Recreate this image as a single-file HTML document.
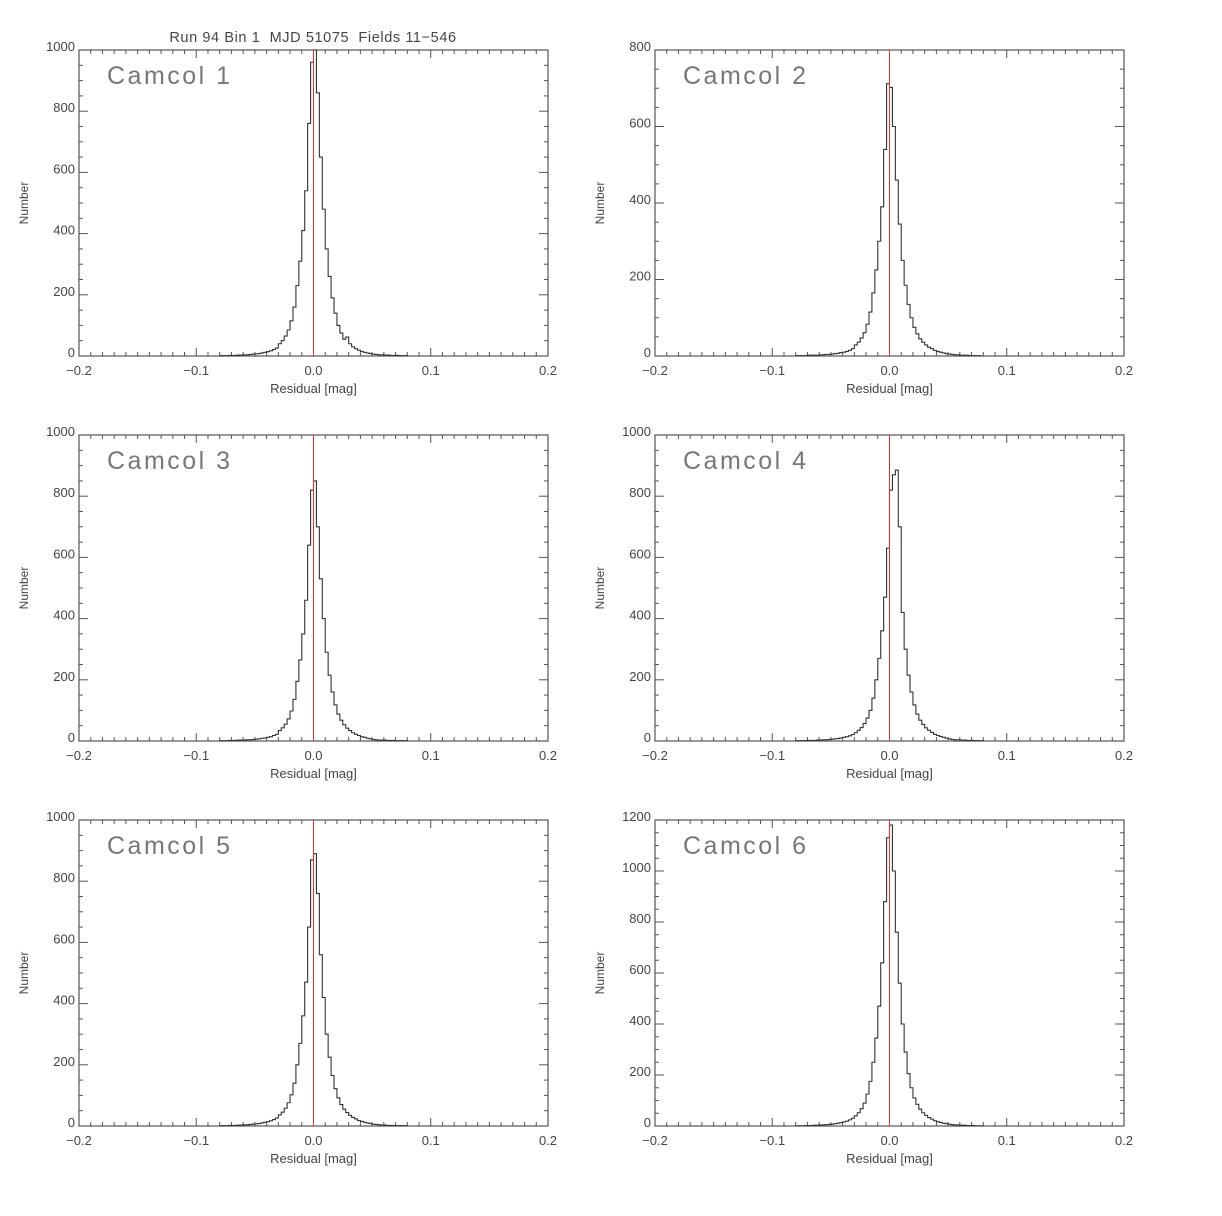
<!DOCTYPE html>
<html><head><meta charset="utf-8">
<style>
html,body{margin:0;padding:0;background:#fff;}
svg{display:block;font-family:"Liberation Sans",sans-serif;}
</style></head>
<body>
<svg id="fig" width="1222" height="1216" viewBox="0 0 1222 1216" xmlns="http://www.w3.org/2000/svg">
<text x="313" y="42" text-anchor="middle" font-size="14.5" fill="#444" letter-spacing="0.6" style="white-space:pre" xml:space="preserve">Run 94 Bin 1  MJD 51075  Fields 11−546</text>
</svg>
<script>
const binStart = -0.08;
const binWidth = 0.0025;
const xTicks = [-0.2, -0.1, 0.0, 0.1, 0.2];
const xTickLabels = ["−0.2", "−0.1", "0.0", "0.1", "0.2"];
const panelTitles = ["Camcol 1","Camcol 2","Camcol 3","Camcol 4","Camcol 5","Camcol 6"];
const yMaxes = [1000, 800, 1000, 1000, 1000, 1200];
const counts1 = [1,1,1,2,2,2,3,3,4,4,5,6, 7,8,10,12,14,17,21,26, 40,50,65,85,115,160, 230,310,410,540,760,960, 1000,860,650,480,350,260, 190,140,100,75,55,62, 40,30,24,19,15,12,10,8, 6,5,4,4,3,3,2,2,2,1,1,1];
const counts2 = [1,1,1,1,2,2,2,2,3,3,4,4, 5,6,7,9,10,12,15,19, 29,36,47,61,83,115, 165,225,300,390,540,712, 702,600,460,345,250,185, 135,100,75,58,45,36, 29,23,19,15,12,10,8,6, 5,4,3,3,2,2,2,1,1,1,1,0];
const counts3 = [1,1,1,2,2,2,3,3,3,4,4,5, 6,7,9,10,12,14,18,22, 34,43,55,72,98,136, 195,265,350,460,640,820, 850,700,530,400,290,215, 160,118,88,68,53,42, 34,27,22,18,14,12,9,7, 5,4,3,3,3,2,2,2,1,1,1,1];
const counts4 = [1,1,1,1,2,2,2,3,3,4,4,5, 6,7,8,10,12,14,17,21, 27,35,44,57,75,100, 140,200,270,360,470,630, 820,870,885,700,420,300, 215,160,118,88,68,54, 43,35,28,22,18,15,12,9, 7,5,4,4,3,3,2,2,2,1,1,1];
const counts5 = [1,1,1,2,2,2,3,3,4,4,5,6, 7,8,10,12,14,17,21,26, 36,45,58,76,102,140, 200,270,360,470,650,870, 890,760,560,420,300,225, 165,122,92,70,55,44, 35,28,23,18,15,12,10,8, 6,5,4,3,3,2,2,2,1,1,1,1];
const counts6 = [1,1,1,2,2,2,3,3,4,4,5,6, 7,9,11,13,16,19,24,30, 40,52,68,90,125,175, 250,345,470,640,880,1130, 1180,1000,760,560,400,290, 205,150,110,85,66,52, 42,33,27,21,17,14,11,9, 7,5,4,4,3,3,2,2,2,1,1,1];
const allCounts = [counts1, counts2, counts3, counts4, counts5, counts6];

const NS = "http://www.w3.org/2000/svg";
const svg = document.getElementById("fig");
function mk(tag, attrs, parent){
  const e = document.createElementNS(NS, tag);
  for (const k in attrs) e.setAttribute(k, attrs[k]);
  parent.appendChild(e);
  return e;
}
const colX = [79, 655], rowY = [50, 435, 820], W = 469, H = 306;
const AX = "#555", TX = "#444";

for (let p = 0; p < 6; p++) {
  const x0 = colX[p % 2], y0 = rowY[Math.floor(p / 2)];
  const ymax = yMaxes[p];
  const sx = v => x0 + (v + 0.2) / 0.4 * W;
  const sy = v => y0 + H - v / ymax * H;
  const g = mk("g", {}, svg);
  
  
  const frame = mk("rect", {x:x0, y:y0, width:W, height:H, fill:"none", stroke:AX, "stroke-width":1.2}, g);
  
  
  for (let i = 0; i <= 40; i++) {
    const v = -0.2 + i * 0.01, x = sx(v), len = (i % 10 === 0) ? 8 : 4;
    mk("line", {x1:x, x2:x, y1:y0+H, y2:y0+H-len, stroke:AX, "stroke-width":1}, g);
    mk("line", {x1:x, x2:x, y1:y0, y2:y0+len, stroke:AX, "stroke-width":1}, g);
  }
  xTicks.forEach((v, i) => {
    const t = mk("text", {x:sx(v), y:y0+H+19, "text-anchor":"middle", "font-size":13, fill:TX}, g);
    t.textContent = xTickLabels[i];
    
    
  });
  for (let v = 0; v <= ymax; v += 50) {
    const y = sy(v), len = (v % 200 === 0) ? 9 : 4;
    mk("line", {x1:x0, x2:x0+len, y1:y, y2:y, stroke:AX, "stroke-width":1}, g);
    mk("line", {x1:x0+W, x2:x0+W-len, y1:y, y2:y, stroke:AX, "stroke-width":1}, g);
    if (v % 200 === 0) {
      const t = mk("text", {x:x0-4, y:y+1, "text-anchor":"end", "font-size":13, fill:TX}, g);
      t.textContent = String(v);
      
      
    }
  }
  const xt = mk("text", {x:x0+W/2, y:y0+H+37, "text-anchor":"middle", "font-size":13, fill:TX}, g);
  xt.textContent = "Residual [mag]";
  
  
  const yt = mk("text", {x:0, y:0, "text-anchor":"middle", "font-size":12, fill:TX, transform:`translate(${x0-51},${y0+H/2}) rotate(-90)`}, g);
  yt.textContent = "Number";
  
  
  const pt = mk("text", {x:x0+28, y:y0+34, "font-size":25, fill:"#777", "letter-spacing":"2.5"}, g);
  pt.textContent = panelTitles[p];
  
  
  const c = allCounts[p];
  let d = `M${sx(binStart)},${sy(0)}`;
  for (let i = 0; i < c.length; i++) {
    const a = sx(binStart + i * binWidth), b = sx(binStart + (i + 1) * binWidth), y = sy(c[i]);
    d += ` L${a},${y} L${b},${y}`;
  }
  d += ` L${sx(binStart + c.length * binWidth)},${sy(0)}`;
  const h = mk("path", {d:d, fill:"none", stroke:"#333", "stroke-width":1.1}, g);
  
  
  const zl = mk("line", {x1:sx(0), x2:sx(0), y1:y0, y2:y0+H, stroke:"#d33", "stroke-width":1}, g);
  
  
}
</script>
</body></html>
